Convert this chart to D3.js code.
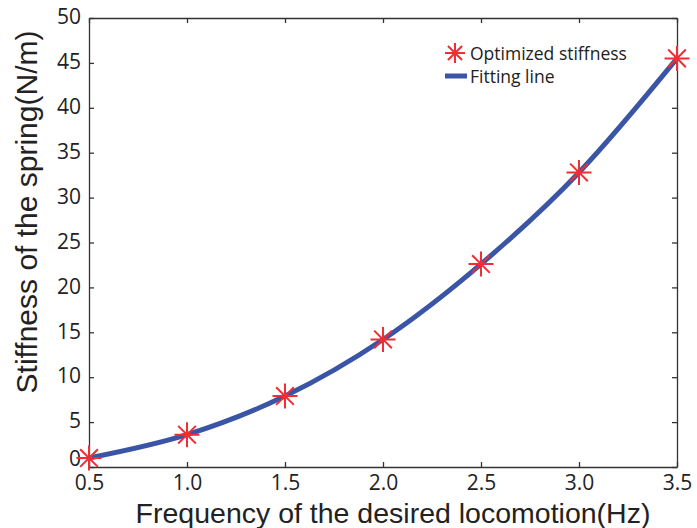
<!DOCTYPE html>
<meta charset="utf-8">
<body style="margin:0;background:#fff">
<script src="https://d3js.org/d3.v7.min.js"></script>
<script>

  // data
  let freq = [0.5, 1.0, 1.5, 2.0, 2.5, 3.0, 3.5],
    stiffness = [1.0, 3.6, 7.9, 14.2, 22.6, 32.8, 45.5];
  let xTicks = [0.5, 1.0, 1.5, 2.0, 2.5, 3.0, 3.5],
    yTicks = [0, 5, 10, 15, 20, 25, 30, 35, 40, 45, 50];
  let legendItems = ["Optimized stiffness", "Fitting line"];

  let width = 697,
    height = 528,
    margin = {left: 89, right: 20, top: 18, bottom: 61};

  let red = "#ee2e34",
    blue = "#3a55a6",
    axisColor = "#333",
    tickFont = "'Open Sans', sans-serif";

  let svg = d3.select("body").append("svg")
    .attr("width", width)
    .attr("height", height);

  let x = d3.scaleLinear().domain([0.5, 3.5]).range([margin.left, width - margin.right]);
  let y = d3.scaleLinear().domain([0, 50]).range([height - margin.bottom, margin.top]);

  // axes: ticks point inward, mirrored on top and right (box on)
  let fmtX = d3.format(".1f");
  svg.append("g")
    .attr("transform", "translate(0," + y(0) + ")")
    .call(d3.axisBottom(x).tickValues(xTicks).tickFormat(fmtX).tickSizeInner(-5).tickSizeOuter(0).tickPadding(8));
  svg.append("g")
    .attr("transform", "translate(0," + y(50) + ")")
    .call(d3.axisTop(x).tickValues(xTicks).tickFormat("").tickSizeInner(-5).tickSizeOuter(0));
  let yAxis = svg.append("g")
    .attr("transform", "translate(" + x(0.5) + ",0)")
    .call(d3.axisLeft(y).tickValues(yTicks).tickSizeInner(-5).tickSizeOuter(0).tickPadding(8));
  svg.append("g")
    .attr("transform", "translate(" + x(3.5) + ",0)")
    .call(d3.axisRight(y).tickValues(yTicks).tickFormat("").tickSizeInner(-5).tickSizeOuter(0));

  svg.selectAll(".domain, .tick line").attr("stroke", axisColor).attr("stroke-width", 1.3);
  svg.selectAll(".tick text")
    .attr("fill", "#222")
    .style("font-family", tickFont)
    .style("font-size", "21px");
  yAxis.selectAll(".tick text").attr("y", d => d === 0 ? -8 : -1);

  // axis titles
  svg.append("text")
    .attr("x", 393)
    .attr("y", 523)
    .attr("text-anchor", "middle")
    .style("font-family", "'Liberation Sans', Arial, sans-serif")
    .style("font-size", "28.5px")
    .attr("fill", "#222")
    .text("Frequency of the desired locomotion(Hz)");

  svg.append("text")
    .attr("transform", "translate(37," + 212 + ") rotate(-90)")
    .attr("text-anchor", "middle")
    .style("font-family", "'Liberation Sans', Arial, sans-serif")
    .style("font-size", "30px")
    .attr("fill", "#222")
    .text("Stiffness of the spring(N/m)");

  // fitting line
  let line = d3.line()
    .x((d, i) => x(freq[i]))
    .y(d => y(d))
    .curve(d3.curveMonotoneX);

  svg.append("path")
    .datum(stiffness)
    .attr("d", line)
    .attr("fill", "none")
    .attr("stroke", blue)
    .attr("stroke-width", 5);

  // asterisk markers
  function star(r) {
    let a = r * Math.SQRT1_2;
    return "M" + (-r) + ",0L" + r + ",0M0," + (-r) + "L0," + r +
      "M" + (-a) + "," + (-a) + "L" + a + "," + a +
      "M" + (-a) + "," + a + "L" + a + "," + (-a);
  }

  svg.selectAll(".pt")
    .data(stiffness)
    .enter().append("path")
    .attr("class", "pt")
    .attr("transform", (d, i) => "translate(" + x(freq[i]) + "," + y(d) + ")")
    .attr("d", star(12.5))
    .attr("stroke", red)
    .attr("stroke-width", 2);

  // legend
  let lg = svg.append("g").attr("transform", "translate(455,53)");
  lg.append("path")
    .attr("d", star(10))
    .attr("stroke", red)
    .attr("stroke-width", 2);
  lg.append("line")
    .attr("x1", -10).attr("x2", 12)
    .attr("y1", 23).attr("y2", 23)
    .attr("stroke", blue)
    .attr("stroke-width", 5);
  lg.selectAll("text")
    .data(legendItems)
    .enter().append("text")
    .attr("x", 15)
    .attr("y", (d, i) => i * 23 + 7)
    .style("font-family", tickFont)
    .style("font-size", "17.5px")
    .attr("fill", "#222")
    .text(d => d);

</script>
